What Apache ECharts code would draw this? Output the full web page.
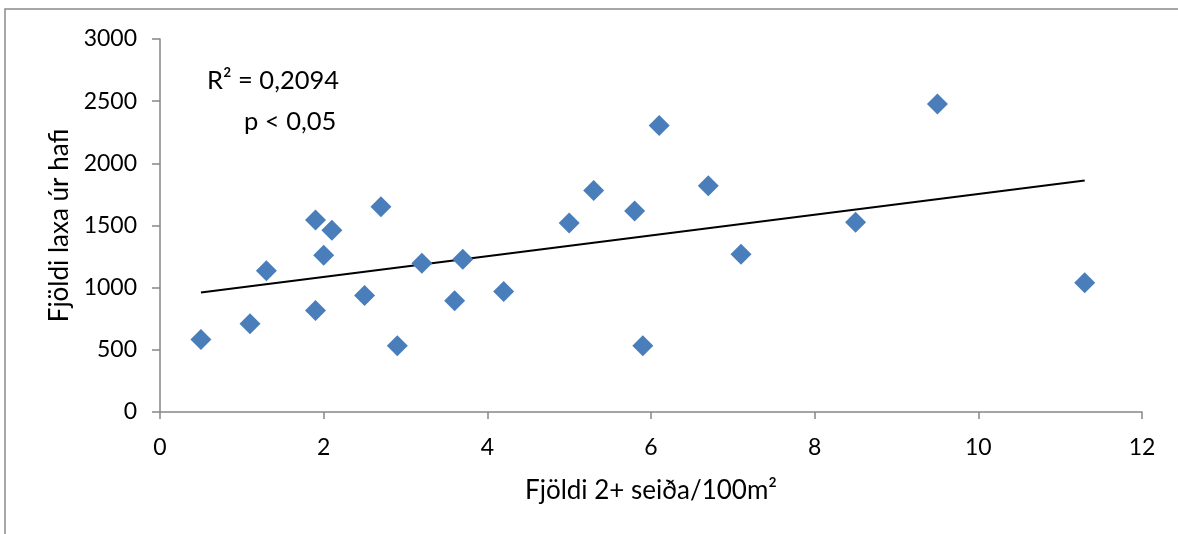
<!DOCTYPE html>
<html>
<head>
    <meta charset="utf-8">
    <title>ECharts</title>
    <script src="https://cdn.jsdelivr.net/npm/echarts@6/dist/echarts.min.js"></script>
    <style>
        body { margin: 0; background: #fff; }
    </style>
</head>
<body>
<div id="main" style="width: 1178px;height:534px;"></div>
<script type="text/javascript">
    // gögn lesin af myndinni
    var seidi = [0.5, 1.1, 1.3, 1.9, 1.9, 2.0, 2.1, 2.5, 2.7, 2.9, 3.2, 3.6, 3.7, 4.2,
                 5.0, 5.3, 5.8, 5.9, 6.1, 6.7, 7.1, 8.5, 9.5, 11.3];
    var laxar = [583, 709, 1136, 1545, 817, 1260, 1462, 938, 1650, 532, 1196, 895, 1228, 970,
                 1520, 1781, 1617, 532, 2305, 1819, 1268, 1526, 2477, 1040];
    var xTicks = [0, 2, 4, 6, 8, 10, 12];
    var yTicks = [0, 500, 1000, 1500, 2000, 2500, 3000];
    var annotation = ['R² = 0,2094', 'p < 0,05'];

    // línuleg aðhvarfslína (minnstu kvaðröt)
    var n = seidi.length, sx = 0, sy = 0, sxx = 0, sxy = 0;
    for (var i = 0; i < n; i++) {
        sx += seidi[i]; sy += laxar[i];
        sxx += seidi[i] * seidi[i]; sxy += seidi[i] * laxar[i];
    }
    var slope = (n * sxy - sx * sy) / (n * sxx - sx * sx);
    var icpt = (sy - slope * sx) / n;
    var xMin = Math.min.apply(null, seidi), xMax = Math.max.apply(null, seidi);
    var trend = [[xMin, icpt + slope * xMin], [xMax, icpt + slope * xMax]];

    var points = seidi.map(function (x, i) { return [x, laxar[i]]; });

    var font = 'Lato, "Open Sans", sans-serif';
    var axisGray = '#868686';

    var myChart = echarts.init(document.getElementById('main'));
    var option = {
        animation: false,
        backgroundColor: '#fff',
        grid: { left: 160, right: 36, top: 39, bottom: 122 },
        xAxis: {
            type: 'value',
            min: xTicks[0], max: xTicks[xTicks.length - 1], interval: 2,
            name: 'Fjöldi 2+ seiða/100m²',
            nameLocation: 'middle', nameGap: 66,
            nameTextStyle: { fontFamily: font, fontSize: 26, color: '#000' },
            axisLine: { lineStyle: { color: axisGray, width: 1.5 } },
            axisTick: { show: true, length: 7, lineStyle: { color: axisGray, width: 1.5 } },
            axisLabel: {
                fontFamily: font, fontSize: 23, color: '#000', margin: 24,
                formatter: function (v) { return String(v); }
            },
            splitLine: { show: false }
        },
        yAxis: {
            type: 'value',
            min: yTicks[0], max: yTicks[yTicks.length - 1], interval: 500,
            name: 'Fjöldi laxa úr hafi',
            nameLocation: 'middle', nameGap: 85,
            nameTextStyle: { fontFamily: font, fontSize: 26, color: '#000' },
            axisLine: { show: true, lineStyle: { color: axisGray, width: 1.5 } },
            axisTick: { show: true, length: 8, lineStyle: { color: axisGray, width: 1.5 } },
            axisLabel: {
                fontFamily: font, fontSize: 23, color: '#000', margin: 23,
                formatter: function (v) { return String(v); }
            },
            splitLine: { show: false }
        },
        graphic: [
            {
                type: 'rect', silent: true, z: -1,
                shape: { x: 5, y: 9, width: 1300, height: 700 },
                style: { fill: 'none', stroke: '#8a8a8a', lineWidth: 1.5 }
            },
            {
                type: 'text', left: 207, top: 68,
                style: { text: annotation[0], font: '25.5px ' + font, fill: '#000' }
            },
            {
                type: 'text', left: 244, top: 109,
                style: { text: annotation[1], font: '25.5px ' + font, fill: '#000' }
            }
        ],
        series: [
            {
                type: 'line',
                data: trend,
                symbol: 'none',
                lineStyle: { color: '#000', width: 2.2 },
                z: 1
            },
            {
                type: 'scatter',
                data: points,
                symbol: 'diamond',
                symbolSize: 21,
                itemStyle: { color: '#4A7EBB', opacity: 1 },
                z: 2
            }
        ]
    };
    myChart.setOption(option);
</script>
</body>
</html>
